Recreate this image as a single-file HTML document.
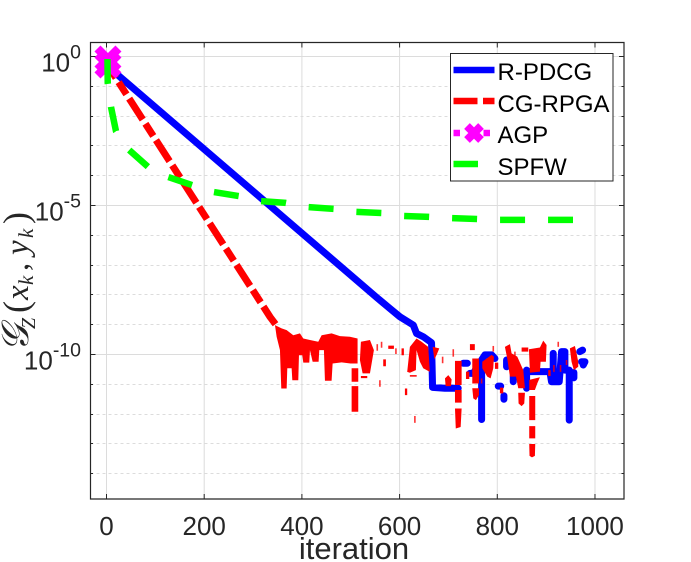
<!DOCTYPE html>
<html>
<head>
<meta charset="utf-8">
<style>
html,body{margin:0;padding:0;background:#fff;width:691px;height:562px;overflow:hidden}
svg{display:block;font-family:"Liberation Sans",sans-serif}
</style>
</head>
<body>
<svg id="chart" xmlns="http://www.w3.org/2000/svg" width="691" height="562" viewBox="0 0 691 562">
<rect x="90.5" y="42.5" width="533.5" height="456.5" fill="#fff"/>
<g id="grid"></g>
<g id="series"></g>
<g id="axes"></g>
<text x="354" y="559" text-anchor="middle" font-size="31" fill="#262626">iteration</text>
<text transform="translate(28,352) rotate(-90)" font-family="'Liberation Serif','DejaVu Serif',serif" font-style="italic" font-size="33" fill="#262626"><tspan x="0" font-size="38">𝒢</tspan><tspan x="23" dy="7" font-size="20">Z</tspan><tspan x="39" dy="-7" font-size="36" font-style="normal">(</tspan><tspan x="52">x</tspan><tspan x="67" dy="5" font-size="21">k</tspan><tspan x="81" dy="-5" font-style="normal">,</tspan><tspan x="97">y</tspan><tspan x="114" dy="5" font-size="21">k</tspan><tspan x="128" dy="-5" font-size="36" font-style="normal">)</tspan></text>
<g>
<rect x="450.5" y="53.5" width="162.5" height="127.5" fill="#fff" stroke="#262626" stroke-width="1"/>
<g>
<line x1="453.5" x2="494.5" y1="70" y2="70" stroke="#0000ff" stroke-width="6.5"/>
<text x="497.5" y="80" font-size="24" fill="#000">R-PDCG</text>
</g>
<g>
<line x1="453.5" x2="494.5" y1="101" y2="101" stroke="#ff0000" stroke-width="6.5" stroke-dasharray="24 5.5"/>
<text x="497.5" y="112" font-size="24" fill="#000">CG-RPGA</text>
</g>
<g>
<line x1="453.5" x2="494.5" y1="133" y2="133" stroke="#ff00ff" stroke-width="6.5" stroke-dasharray="6.5 8.5"/>
<path d="M467 126L481 140M481 126L467 140" stroke="#ff00ff" stroke-width="8" fill="none"/>
<text x="497.5" y="143" font-size="24" fill="#000">AGP</text>
</g>
<g>
<line x1="453.5" x2="478" y1="164" y2="164" stroke="#00ff00" stroke-width="6.5"/>
<text x="497.5" y="175" font-size="24" fill="#000">SPFW</text>
</g>
</g>
</svg>
<script>
// Axis tick data
const xTicks = [0, 200, 400, 600, 800, 1000];
const yMajorExponents = [0, -5, -10];
const yMinorExponents = [-1, -2, -3, -4, -6, -7, -8, -9, -11, -12, -13, -14];

// R-PDCG (iteration, log10 of gap); null marks a break in the line
const rPdcgIter = [0, 27.6, 552.9, 580, 600.6, 628, 634.7, 648.4, 665.4, 667.5, 692.9, 720, null, 730.4, 738.6, null, 744, 750.9, 767.9, 767.9, 767.9, null, 767.9, 774.7, 788.4, 795.2, null, 802, 807, null, 813.6, 813.6, null, 819, 819, null, 832.7, 832.7, 840, null, 860, 860, null, 860, 887.3, 907.7, 911, 926.8, null, 914.5, 914.5, null, 926.8, 931.6, 938.4, 938.4, 947.3, 947.3, null, 956.8, 956.8, null, 969, 974.6, null, 972.5, 979.4, 976];
const rPdcgLog = [-0.3, -0.7, -8.1, -8.47, -8.75, -9.03, -9.31, -9.42, -9.62, -11.12, -11.15, -11.15, null, -10.31, -10.31, null, -10.65, -10.65, -10.2, -12.2, -10.2, null, -10.2, -10.03, -10.03, -10.15, null, -11.08, -11.08, null, -11.4, -11.52, null, -10.2, -10.43, null, -10.93, -10.76, -10.76, null, -10.54, -11.15, null, -10.59, -10.59, -10.59, -10.93, -10.93, null, -9.98, -10.93, null, -10.93, -9.92, -9.92, -10.54, -10.54, -12.22, null, -10.62, -10.8, null, -9.92, -9.87, null, -10.26, -10.26, -10.37];

// CG-RPGA straight descent (iteration, log10 of gap)
const cgRpgaIter = [0, 335, 346];
const cgRpgaLog = [-0.25, -8.76, -9.0];

// CG-RPGA noise floor: outlines of the dense oscillation blobs; null separates blobs
const cgBlobIter = [344.9, 358.5, 368.8, 382.4, 396, 402.9, 416.5, 433.5, 440.4, 460.8, 477.9, 498.3, 514, 514, 499.7, 481.3, 462.9, 460.8, 447.2, 445.1, 435.6, 434.2, 422, 416.5, 415.1, 402.9, 400.8, 394, 392.6, 380.4, 379, 370.1, 368.8, 357.8, 355.1, 348.3, null,
  501.8, 515.4, 515.4, 501.8, null, 501.8, 515.4, 515.4, 501.8, null,
  520.8, 539.3, 547.4, 539.3, 524.3, 518.8, null, 520.8, 533.8, 533.8, 520.8, null,
  566.5, 572, 572, 566.5, null, 576.8, 588.4, 588.4, 576.8, null, 604, 608.8, 608.8, 604, null, 610.9, 615.6, 615.6, 610.9, null,
  621.1, 634.7, 645, 658.6, 662, 648.4, 641.6, 634.7, 633.4, 621.1, 615.6, null, 621, 635, 635, 621, null,
  667.7, 681.3, 675.8, 671.1, null, 692.9, 699.7, 706.5, 705.2, 694.3, null,
  713.4, 727, 727, 713.4, null, 713.4, 727, 727, 713.4, null, 713.4, 727, 725, 715, null,
  735.9, 742.7, 742.7, 735.9, null, 744, 754, 754, 744, null,
  748.8, 762.5, 762.5, 748.8, null, 748.8, 762.5, 762.5, 756.3, 750.9, null,
  769.3, 788.4, 793.1, 791.8, 786.3, 779.5, 769.3, null, 795.2, 802, 802, 795.2, null, 805.4, 812.2, 812.2, 805.4, null,
  815.6, 825.9, 829.3, 840.9, 853.2, 856.6, 842.9, 838.2, 825.9, 820.4, null, 842.9, 856.6, 855.2, 849.8, 843.6, null, 849.8, 863.4, 863.4, 849.8, null,
  864.8, 887.3, 894.1, 900.9, 899.5, 888.6, 887.3, 866.8, null, 865.4, 887.3, 881.8, 877, 865.4, null,
  865.4, 877.7, 877.7, 865.4, null, 865.4, 877.7, 877.7, 865.4, null, 865.4, 877.7, 877, 871, 866, null,
  904.3, 909.1, 909.1, 904.3, null, 948.6, 958.9, 962.3, 965.7, 965.7, 956.8, 952];
const cgBlobLog = [-9.03, -9.14, -9.2, -9.37, -9.31, -9.48, -9.53, -9.59, -9.37, -9.31, -9.4, -9.42, -9.48, -10.32, -10.32, -10.28, -10.32, -10.9, -10.9, -9.87, -9.87, -10.26, -10.26, -9.87, -10.29, -10.29, -10.04, -10.04, -10.88, -10.88, -10.48, -10.48, -11.16, -11.16, -9.87, -9.42, null,
  -10.48, -10.48, -10.93, -10.93, null, -11.08, -11.08, -11.94, -11.94, null,
  -9.59, -9.53, -9.87, -10.65, -10.65, -10.2, null, -10.74, -10.74, -10.81, -10.81, null,
  -10.18, -10.18, -10.41, -10.41, null, -9.72, -9.72, -9.83, -9.83, null, -9.81, -9.81, -10.04, -10.04, null, -11.16, -11.16, -11.38, -11.38, null,
  -9.76, -9.48, -9.59, -9.76, -10.6, -10.48, -10.26, -9.87, -10.54, -10.63, -10.6, null, -10.71, -10.71, -10.76, -10.76, null,
  -9.76, -9.81, -10.03, -10.18, null, -10.82, -10.71, -10.85, -11.08, -11.08, null,
  -10.23, -10.23, -11.04, -11.04, null, -11.21, -11.21, -11.63, -11.63, null, -11.83, -11.83, -12.45, -12.5, null,
  -10.59, -10.59, -10.84, -10.84, null, -9.67, -9.67, -9.87, -9.87, null,
  -10.15, -10.15, -10.99, -10.99, null, -11.15, -11.15, -11.38, -11.55, -11.49, null,
  -10.26, -10.03, -10.09, -10.48, -10.82, -10.76, -10.48, null, -10.29, -10.29, -10.5, -10.5, null, -11.13, -11.13, -11.32, -11.32, null,
  -9.76, -9.67, -9.98, -10.09, -10.54, -11.15, -11.15, -10.76, -10.76, -10.15, null, -11.3, -11.3, -11.66, -11.75, -11.66, null, -9.78, -9.78, -9.92, -9.92, null,
  -9.84, -9.78, -9.55, -9.7, -10.26, -10.26, -10.59, -10.63, null, -10.87, -10.78, -10.99, -11.21, -11.21, null,
  -11.41, -11.41, -12.22, -12.22, null, -12.42, -12.42, -12.83, -12.83, null, -13.02, -13.02, -13.42, -13.47, -13.42, null,
  -10.54, -10.54, -10.74, -10.74, null, -9.81, -9.73, -9.98, -10.26, -10.43, -10.54, -10.26];

// CG-RPGA isolated slivers (iteration, upper and lower log10 of gap)
const cgSliverIter = [554.3, 563.1, 559.7, 631.3, 592.5, 688.1, 709.9, 791.8, 924.8, 941.8, 836.1, 767.9, 915.9, 929.5];
const cgSliverTop = [-9.67, -9.59, -10.88, -12.08, -9.81, -10.09, -9.84, -9.73, -9.59, -10.2, -9.92, -10.82, -10.37, -10.37];
const cgSliverBottom = [-9.89, -9.79, -11.1, -12.31, -10, -10.31, -10.09, -9.92, -9.76, -10.37, -10.09, -10.99, -10.6, -10.6];

// AGP
const agpIter = [3, 3];
const agpLog = [-0.1, -0.3];

// SPFW
const spfwIter = [2, 2.5, 9.2, 19.4, 46, 85, 126, 175, 218, 271, 316, 367, 412, 466, 511, 564, 609, 660, 707, 758, 805, 857, 904, 955];
const spfwLog = [-0.1, -0.9, -1.71, -2.52, -3.15, -3.72, -4.06, -4.33, -4.56, -4.7, -4.87, -4.93, -5.07, -5.13, -5.23, -5.27, -5.37, -5.4, -5.44, -5.47, -5.5, -5.5, -5.5, -5.5];

const plot = {left: 90.5, right: 624, top: 42.5, bottom: 499};
const xDomain = [-32.75, 1059.4];
const yDomain = [0.453, -14.866];
const NS = 'http://www.w3.org/2000/svg';
function xScale(v){ return plot.left + (v - xDomain[0]) / (xDomain[1] - xDomain[0]) * (plot.right - plot.left); }
function yScale(v){ return plot.top + (v - yDomain[0]) / (yDomain[1] - yDomain[0]) * (plot.bottom - plot.top); }
function mk(tag, parent, attrs){
  const el = document.createElementNS(NS, tag);
  for (const k in attrs) el.setAttribute(k, attrs[k]);
  parent.appendChild(el);
  return el;
}
function pathFrom(xs, ys, closeEach){
  let d = '', pen = false;
  for (let i = 0; i < xs.length; i++) {
    if (xs[i] === null || ys[i] === null) { if (closeEach && pen) d += 'Z'; pen = false; continue; }
    d += (pen ? 'L' : 'M') + xScale(xs[i]).toFixed(2) + ' ' + yScale(ys[i]).toFixed(2);
    pen = true;
  }
  if (closeEach && pen) d += 'Z';
  return d;
}
const grid = document.getElementById('grid');
const axes = document.getElementById('axes');
const series = document.getElementById('series');
const axisColor = '#262626', gridColor = '#dcdcdc';

xTicks.forEach(function(t){
  const g = mk('line', grid, {x1: xScale(t), x2: xScale(t), y1: plot.top, y2: plot.bottom, stroke: gridColor, 'stroke-width': 1});
  
  
  const b = mk('line', axes, {x1: xScale(t), x2: xScale(t), y1: plot.bottom, y2: plot.bottom - 5, stroke: axisColor, 'stroke-width': 1});
  
  
  const u = mk('line', axes, {x1: xScale(t), x2: xScale(t), y1: plot.top, y2: plot.top + 5, stroke: axisColor, 'stroke-width': 1});
  
  
  const l = mk('text', axes, {x: xScale(t), y: 535, 'text-anchor': 'middle', 'font-size': 26, fill: axisColor});
  
  
  l.textContent = String(t);
});
yMajorExponents.forEach(function(e){
  const y = Math.round(yScale(e)) + 0.5;
  const g = mk('line', grid, {x1: plot.left, x2: plot.right, y1: y, y2: y, stroke: gridColor, 'stroke-width': 1});
  
  
  const a = mk('line', axes, {x1: plot.left, x2: plot.left + 5, y1: y, y2: y, stroke: axisColor, 'stroke-width': 1});
  
  
  const c = mk('line', axes, {x1: plot.right, x2: plot.right - 5, y1: y, y2: y, stroke: axisColor, 'stroke-width': 1});
  
  
  const l = mk('text', axes, {x: 81, y: y + 15, 'text-anchor': 'end', 'font-size': 26, fill: axisColor});
  
  
  const base = mk('tspan', l, {});
  base.textContent = '10';
  const sup = mk('tspan', l, {dy: -13, 'font-size': 19.5});
  sup.textContent = String(e);
});
yMinorExponents.forEach(function(e){
  const y = Math.round(yScale(e)) + 0.5;
  const g = mk('line', grid, {x1: plot.left, x2: plot.right, y1: y, y2: y, stroke: gridColor, 'stroke-width': 1, 'stroke-dasharray': '3 3'});
  
  
  const a = mk('line', axes, {x1: plot.left, x2: plot.left + 2.5, y1: y, y2: y, stroke: axisColor, 'stroke-width': 1});
  
  
  const c = mk('line', axes, {x1: plot.right, x2: plot.right - 2.5, y1: y, y2: y, stroke: axisColor, 'stroke-width': 1});
  
  
});
const frame = mk('path', axes, {d: 'M' + plot.left + ' ' + plot.top + 'H' + plot.right + 'V' + plot.bottom + 'H' + plot.left + 'Z', fill: 'none', stroke: axisColor, 'stroke-width': 1.2});



const blue = mk('path', series, {d: pathFrom(rPdcgIter, rPdcgLog), fill: 'none', stroke: '#0000ff', 'stroke-width': 7, 'stroke-linejoin': 'round', 'stroke-linecap': 'round'});



const red = mk('path', series, {d: pathFrom(cgRpgaIter, cgRpgaLog), fill: 'none', stroke: '#ff0000', 'stroke-width': 7, 'stroke-linejoin': 'round', 'stroke-dasharray': '25 5 14.5 5', 'stroke-dashoffset': 7.7});



const redBlobs = mk('path', series, {d: pathFrom(cgBlobIter, cgBlobLog, true), fill: '#ff0000', stroke: 'none'});



cgSliverIter.forEach(function(it, i){
  const s = mk('line', series, {x1: xScale(it), x2: xScale(it), y1: yScale(cgSliverTop[i]), y2: yScale(cgSliverBottom[i]), stroke: '#ff0000', 'stroke-width': 1.6, 'stroke-opacity': 0.8});
  
  
});

agpIter.forEach(function(it, i){
  const cx = xScale(it), cy = yScale(agpLog[i]), r = 10.5;
  const m = mk('path', series, {d: 'M' + (cx - r) + ' ' + (cy - r) + 'L' + (cx + r) + ' ' + (cy + r) + 'M' + (cx + r) + ' ' + (cy - r) + 'L' + (cx - r) + ' ' + (cy + r), fill: 'none', stroke: '#ff00ff', 'stroke-width': 8.5});
  
  
});

const green = mk('path', series, {d: pathFrom(spfwIter, spfwLog), fill: 'none', stroke: '#00ff00', 'stroke-width': 6.5, 'stroke-linejoin': 'round', 'stroke-dasharray': '25 23'});


</script>
</body>
</html>
